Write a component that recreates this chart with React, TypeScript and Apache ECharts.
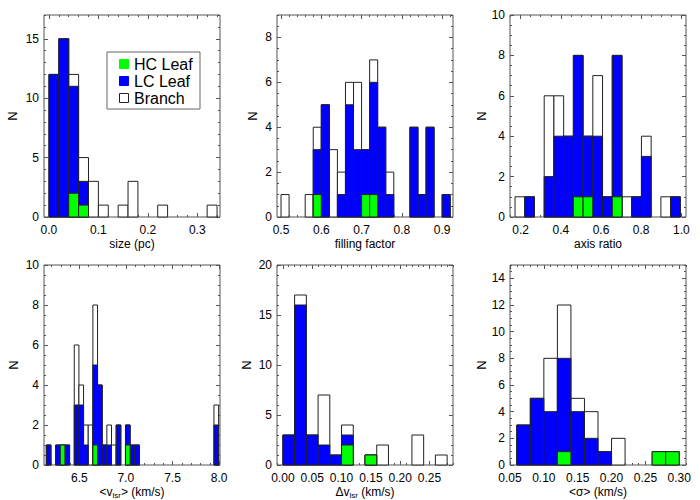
import React, { useEffect, useRef } from "react";
import * as echarts from "echarts";

// ---------- Panel 1: size (pc) ----------
const sizeBinStart = 0;
const sizeBinWidth = 0.02;
const sizeHC = [0, 0, 2, 1, 0, 0, 0, 0, 0, 0, 0, 0, 0, 0, 0, 0, 0];
const sizeLC = [12, 15, 11, 3, 0, 0, 0, 0, 0, 0, 0, 0, 0, 0, 0, 0, 0];
const sizeBranch = [12, 15, 12, 5, 3, 1, 0, 1, 3, 0, 0, 1, 0, 0, 0, 0, 1];
const sizeXTicks = [0, 0.1, 0.2, 0.3];
const sizeYTicks = [0, 5, 10, 15];

// ---------- Panel 2: filling factor ----------
const fillBinStart = 0.5;
const fillBinWidth = 0.02;
const fillHC = [0, 0, 0, 0, 1, 0, 0, 0, 0, 0, 1, 1, 0, 0, 0, 0, 0, 0, 0, 0, 0];
const fillLC = [0, 0, 0, 0, 3, 5, 0, 1, 5, 3, 3, 6, 4, 1, 0, 0, 4, 1, 4, 0, 1];
const fillBranch = [1, 0, 0, 1, 4, 5, 3, 2, 6, 6, 3, 7, 4, 2, 0, 0, 4, 1, 4, 0, 1];
const fillXTicks = [0.5, 0.6, 0.7, 0.8, 0.9];
const fillYTicks = [0, 2, 4, 6, 8];

// ---------- Panel 3: axis ratio ----------
const ratioBinStart = 0.172;
const ratioBinWidth = 0.0484;
const ratioHC = [0, 0, 0, 0, 0, 0, 1, 1, 0, 0, 1, 0, 0, 0, 0, 0, 0];
const ratioLC = [0, 1, 0, 2, 4, 4, 8, 4, 4, 1, 8, 0, 1, 3, 0, 0, 1];
const ratioBranch = [1, 1, 0, 6, 6, 4, 8, 4, 7, 1, 8, 1, 1, 4, 0, 1, 1];
const ratioXTicks = [0.2, 0.4, 0.6, 0.8, 1.0];
const ratioYTicks = [0, 2, 4, 6, 8, 10];

// ---------- Panel 4: <v_lsr> (km/s) ----------
const vlsrBinStart = 6.145;
const vlsrBinWidth = 0.05;
const vlsrHC = [0, 0, 0, 1, 0, 0, 0, 0, 0, 0, 1, 0, 0, 0, 0, 0, 0, 1, 0, 0,
  0, 0, 0, 0, 0, 0, 0, 0, 0, 0, 0, 0, 0, 0, 0, 0, 0];
const vlsrLC = [1, 0, 1, 1, 1, 0, 3, 3, 1, 0, 5, 4, 1, 1, 0, 2, 0, 2, 1, 1,
  0, 0, 0, 0, 0, 0, 0, 0, 0, 0, 0, 0, 0, 0, 0, 0, 2];
const vlsrBranch = [1, 0, 1, 1, 1, 0, 6, 4, 2, 2, 8, 4, 1, 2, 1, 2, 0, 2, 1, 1,
  0, 0, 0, 0, 0, 0, 0, 0, 0, 0, 0, 0, 0, 0, 0, 0, 3];
const vlsrXTicks = [6.5, 7.0, 7.5, 8.0];
const vlsrYTicks = [0, 2, 4, 6, 8, 10];

// ---------- Panel 5: Δv_lsr (km/s) ----------
const dvBinStart = 0;
const dvBinWidth = 0.02;
const dvHC = [0, 0, 0, 0, 0, 2, 0, 1, 0, 0, 0, 0, 0, 0];
const dvLC = [3, 16, 3, 2, 1, 3, 0, 1, 0, 0, 0, 0, 0, 0];
const dvBranch = [3, 17, 3, 7, 1, 4, 0, 1, 2, 0, 0, 3, 0, 1];
const dvXTicks = [0, 0.05, 0.1, 0.15, 0.2, 0.25];
const dvYTicks = [0, 5, 10, 15, 20];

// ---------- Panel 6: <σ> (km/s) ----------
const sigBinStart = 0.06;
const sigBinWidth = 0.02;
const sigHC = [0, 0, 0, 1, 0, 0, 0, 0, 0, 0, 1, 1];
const sigLC = [3, 5, 4, 8, 4, 2, 1, 0, 0, 0, 0, 0];
const sigBranch = [3, 5, 8, 12, 5, 4, 1, 2, 0, 0, 1, 1];
const sigXTicks = [0.05, 0.1, 0.15, 0.2, 0.25, 0.3];
const sigYTicks = [0, 2, 4, 6, 8, 10, 12, 14];

const seriesNames = ["Branch", "LC Leaf", "HC Leaf"];

const FONT = "Liberation Sans, Arial, Helvetica, sans-serif";
const FRAME = "#555";
const COLORS = { Branch: "#ffffff", "LC Leaf": "#0000ff", "HC Leaf": "#00ff00" };

type Panel = {
  binStart: number;
  binWidth: number;
  hc: number[];
  lc: number[];
  branch: number[];
  xTicks: number[];
  yTicks: number[];
  xMin: number;
  xMax: number;
  yMax: number;
  xMinor: number;
  yMinor: number;
  xDec: number;
  xName: string;
  yNameGap: number;
};

const panels: Panel[] = [
  { binStart: sizeBinStart, binWidth: sizeBinWidth, hc: sizeHC, lc: sizeLC, branch: sizeBranch,
    xTicks: sizeXTicks, yTicks: sizeYTicks, xMin: -0.01, xMax: 0.346, yMax: 17, xMinor: 0.02, yMinor: 1,
    xDec: 1, xName: "size (pc)", yNameGap: 25 },
  { binStart: fillBinStart, binWidth: fillBinWidth, hc: fillHC, lc: fillLC, branch: fillBranch,
    xTicks: fillXTicks, yTicks: fillYTicks, xMin: 0.49, xMax: 0.927, yMax: 9, xMinor: 0.02, yMinor: 0.5,
    xDec: 1, xName: "filling factor", yNameGap: 18 },
  { binStart: ratioBinStart, binWidth: ratioBinWidth, hc: ratioHC, lc: ratioLC, branch: ratioBranch,
    xTicks: ratioXTicks, yTicks: ratioYTicks, xMin: 0.147, xMax: 1.023, yMax: 10, xMinor: 0.05, yMinor: 0.5,
    xDec: 1, xName: "axis ratio", yNameGap: 22 },
  { binStart: vlsrBinStart, binWidth: vlsrBinWidth, hc: vlsrHC, lc: vlsrLC, branch: vlsrBranch,
    xTicks: vlsrXTicks, yTicks: vlsrYTicks, xMin: 6.12, xMax: 8.01, yMax: 10, xMinor: 0.1, yMinor: 0.5,
    xDec: 1, xName: "<v{sub|lsr}> (km/s)", yNameGap: 24 },
  { binStart: dvBinStart, binWidth: dvBinWidth, hc: dvHC, lc: dvLC, branch: dvBranch,
    xTicks: dvXTicks, yTicks: dvYTicks, xMin: -0.01, xMax: 0.29, yMax: 20, xMinor: 0.01, yMinor: 1,
    xDec: 2, xName: "Δv{sub|lsr} (km/s)", yNameGap: 24 },
  { binStart: sigBinStart, binWidth: sigBinWidth, hc: sigHC, lc: sigLC, branch: sigBranch,
    xTicks: sigXTicks, yTicks: sigYTicks, xMin: 0.05, xMax: 0.31, yMax: 15, xMinor: 0.01, yMinor: 0.5,
    xDec: 2, xName: "<σ> (km/s)", yNameGap: 22 },
];

const colLeft = [44, 277, 510];
const rowTop = [15, 265];
const gridW = 176;
const gridH = 202;

function minorValues(min: number, max: number, step: number): number[] {
  const out: number[] = [];
  const k0 = Math.ceil(min / step - 1e-9);
  const k1 = Math.floor(max / step + 1e-9);
  for (let k = k0; k <= k1; k++) out.push(+(k * step).toFixed(6));
  return out;
}

function makeRender(fill: string) {
  return (_params: any, api: any) => {
    const v = api.value(2);
    if (!v) return null;
    const a = api.coord([api.value(0), 0]);
    const b = api.coord([api.value(1), v]);
    return {
      type: "rect",
      shape: { x: a[0], y: b[1], width: b[0] - a[0], height: a[1] - b[1] },
      style: { fill, stroke: "#222", lineWidth: 1 },
    };
  };
}

function buildOption() {
  const grid: any[] = [];
  const xAxis: any[] = [];
  const yAxis: any[] = [];
  const series: any[] = [];
  const labelStyle = { fontFamily: FONT, fontSize: 12, color: "#000" };
  const rich = {
    sub: { fontFamily: FONT, fontSize: 8, color: "#000", verticalAlign: "bottom", lineHeight: 8, padding: [6, 0, 0, 0] },
  };

  panels.forEach((p, i) => {
    const col = i % 3;
    const row = Math.floor(i / 3);
    grid.push({
      left: colLeft[col], top: rowTop[row], width: gridW, height: gridH,
      show: true, borderColor: FRAME, borderWidth: 1, backgroundColor: "transparent",
    });
    const xMinorVals = minorValues(p.xMin, p.xMax, p.xMinor);
    const yMinorVals = minorValues(0, p.yMax, p.yMinor);
    const baseX = {
      type: "value", gridIndex: i, min: p.xMin, max: p.xMax,
      axisLine: { show: false, onZero: false }, splitLine: { show: false },
    };
    const baseY = {
      type: "value", gridIndex: i, min: 0, max: p.yMax,
      axisLine: { show: false, onZero: false }, splitLine: { show: false },
    };
    const xIdx = xAxis.length;
    const yIdx = yAxis.length;
    xAxis.push({
      ...baseX, position: "bottom",
      axisTick: { show: true, inside: true, length: 4, customValues: p.xTicks, lineStyle: { color: FRAME } },
      axisLabel: { show: true, customValues: p.xTicks, margin: 7, ...labelStyle,
        formatter: (v: number) => v.toFixed(p.xDec) },
      name: p.xName, nameLocation: "middle", nameGap: 20,
      nameTextStyle: { ...labelStyle, lineHeight: 14, rich },
    });
    xAxis.push({ ...baseX, position: "bottom",
      axisTick: { show: true, inside: true, length: 2, customValues: xMinorVals, lineStyle: { color: FRAME } },
      axisLabel: { show: false } });
    xAxis.push({ ...baseX, position: "top",
      axisTick: { show: true, inside: true, length: 4, customValues: p.xTicks, lineStyle: { color: FRAME } },
      axisLabel: { show: false } });
    xAxis.push({ ...baseX, position: "top",
      axisTick: { show: true, inside: true, length: 2, customValues: xMinorVals, lineStyle: { color: FRAME } },
      axisLabel: { show: false } });

    yAxis.push({
      ...baseY, position: "left",
      axisTick: { show: true, inside: true, length: 4, customValues: p.yTicks, lineStyle: { color: FRAME } },
      axisLabel: { show: true, customValues: p.yTicks, margin: 5, ...labelStyle },
      name: "N", nameLocation: "middle", nameGap: p.yNameGap, nameRotate: 90,
      nameTextStyle: { fontFamily: FONT, fontSize: 13, color: "#000" },
    });
    yAxis.push({ ...baseY, position: "left",
      axisTick: { show: true, inside: true, length: 2, customValues: yMinorVals, lineStyle: { color: FRAME } },
      axisLabel: { show: false } });
    yAxis.push({ ...baseY, position: "right",
      axisTick: { show: true, inside: true, length: 4, customValues: p.yTicks, lineStyle: { color: FRAME } },
      axisLabel: { show: false } });
    yAxis.push({ ...baseY, position: "right",
      axisTick: { show: true, inside: true, length: 2, customValues: yMinorVals, lineStyle: { color: FRAME } },
      axisLabel: { show: false } });

    const groups: [string, number[]][] = [
      ["Branch", p.branch],
      ["LC Leaf", p.lc],
      ["HC Leaf", p.hc],
    ];
    groups.forEach(([name, vals]) => {
      series.push({
        type: "custom",
        name,
        xAxisIndex: xIdx,
        yAxisIndex: yIdx,
        renderItem: makeRender((COLORS as any)[name]),
        encode: { x: [0, 1], y: 2 },
        data: vals.map((v, k) => [
          +(p.binStart + k * p.binWidth).toFixed(6),
          +(p.binStart + (k + 1) * p.binWidth).toFixed(6),
          v,
        ]),
      });
    });
  });

  const legendItems = [
    { name: seriesNames[2], y: 64 },
    { name: seriesNames[1], y: 81 },
    { name: seriesNames[0], y: 98 },
  ];
  const graphic: any[] = [
    { type: "rect", z: 100, shape: { x: 107, y: 52, width: 93, height: 57 },
      style: { fill: "#fff", stroke: "#666", lineWidth: 1 } },
  ];
  legendItems.forEach((it) => {
    graphic.push({ type: "rect", z: 101, shape: { x: 119.5, y: it.y - 4.5, width: 9, height: 9 },
      style: { fill: (COLORS as any)[it.name], stroke: it.name === "Branch" ? "#222" : (COLORS as any)[it.name], lineWidth: 1 } });
    graphic.push({ type: "text", z: 101, x: 134, y: it.y,
      style: { text: it.name, fontFamily: FONT, fontSize: 16, fill: "#000", verticalAlign: "middle", align: "left" } });
  });

  return {
    animation: false,
    backgroundColor: "#fff",
    grid, xAxis, yAxis, series, graphic,
  };
}

export default function App() {
  const ref = useRef<HTMLDivElement>(null);
  useEffect(() => {
    if (!ref.current) return;
    const chart = echarts.init(ref.current, undefined, { renderer: "svg" });
    chart.setOption(buildOption() as any);
    return () => chart.dispose();
  }, []);
  return (
    <div
      ref={ref}
      style={{ position: "fixed", left: 0, top: 0, width: 700, height: 500, background: "#fff" }}
    />
  );
}
